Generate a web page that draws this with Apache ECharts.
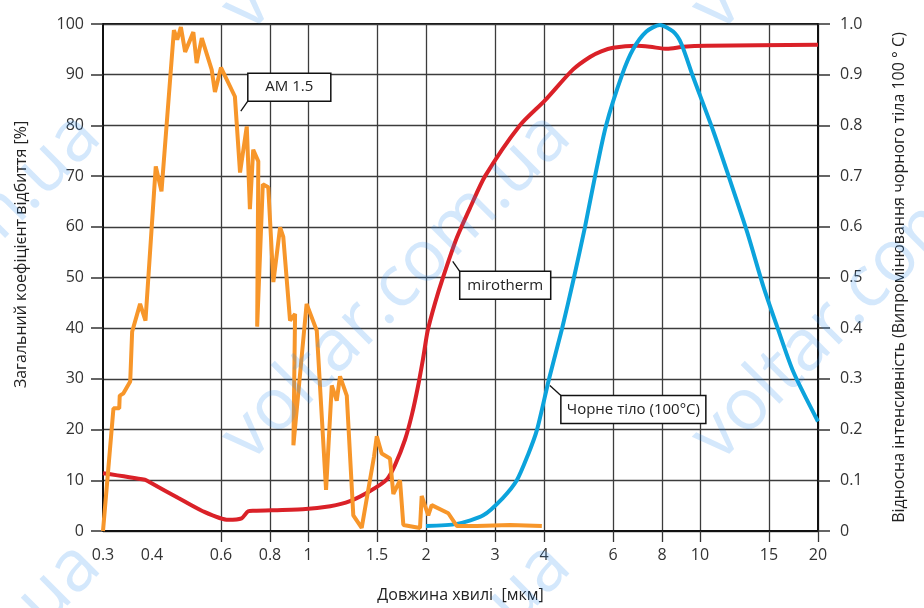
<!DOCTYPE html>
<html>
<head>
<meta charset="utf-8">
<title>mirotherm</title>
<script src="https://cdn.jsdelivr.net/npm/echarts@6.0.0/dist/echarts.min.js"></script>
<style>
  html, body { margin: 0; padding: 0; background: #fff; }
  #chart { width: 924px; height: 608px; }
</style>
</head>
<body>
<div id="chart"></div>
<script>
// [wavelength µm, %]
const am15 = [
  [0.3, 0], [0.319, 24.2], [0.33, 24.2], [0.331, 26.7], [0.338, 27.1], [0.352, 29.5],
  [0.356, 39.3], [0.373, 44.8], [0.385, 41.5], [0.409, 71.9], [0.423, 67.0], [0.455, 98.8],
  [0.464, 96.9], [0.474, 99.4], [0.486, 94.5], [0.51, 98.4], [0.52, 92.3], [0.536, 97.2],
  [0.568, 91.0], [0.579, 86.6], [0.6, 91.4], [0.651, 85.7], [0.671, 70.7], [0.698, 79.8],
  [0.711, 63.5], [0.725, 75.2], [0.747, 72.9], [0.742, 40.3], [0.767, 68.4], [0.792, 67.8],
  [0.816, 49.1], [0.849, 59.9], [0.865, 58.0], [0.9, 41.5], [0.927, 42.8], [0.918, 16.9],
  [0.992, 44.8], [1.053, 39.5], [1.112, 8.1], [1.15, 28.7], [1.184, 25.7], [1.207, 30.5],
  [1.256, 26.7], [1.305, 3.1], [1.371, 0.6], [1.474, 14.7], [1.498, 18.7], [1.542, 15.3],
  [1.619, 14.3], [1.651, 7.3], [1.717, 10.0], [1.751, 1.2], [1.931, 0.6], [1.95, 6.9],
  [2.027, 3.1], [2.068, 5.1], [2.28, 3.5], [2.396, 1.0], [2.694, 1.0], [3.276, 1.2], [3.95, 1.0]
];

const mirotherm = [
  [0.3, 11.4], [0.384, 10.1], [0.395, 9.6], [0.467, 6.5], [0.536, 4.0], [0.626, 2.2],
  [0.677, 2.5], [0.704, 3.9], [0.727, 4.0], [0.97, 4.3], [1.14, 4.9], [1.28, 5.9],
  [1.44, 7.9], [1.59, 10.2], [1.667, 13], [1.768, 18], [1.842, 23], [1.908, 28.5],
  [1.966, 34], [2.02, 39.5], [2.11, 45], [2.21, 50], [2.39, 57.6], [2.6, 64],
  [2.83, 70], [3.47, 80], [4.03, 85], [4.74, 91], [5.24, 93.5], [5.6, 94.6], [6.0, 95.3],
  [6.9, 95.7], [7.46, 95.5], [8.24, 95.1], [9.06, 95.5], [10.4, 95.7], [20, 95.9]
];

// black body 100°C, relative intensity (right axis)
const blackBody = [
  [2, 0.01], [2.4, 0.014], [2.8, 0.031], [3.14, 0.065], [3.41, 0.10], [3.64, 0.15],
  [3.84, 0.20], [4.12, 0.30], [4.45, 0.40], [4.77, 0.50], [5.09, 0.60], [5.40, 0.70],
  [5.76, 0.80], [6.33, 0.90], [6.75, 0.95], [7.3, 0.985], [7.9, 0.998], [8.54, 0.985],
  [8.95, 0.962], [9.6, 0.896], [10.8, 0.79], [11.9, 0.694], [13.2, 0.589], [14.5, 0.483],
  [15.7, 0.405], [17.3, 0.314], [20, 0.216]
];

const xTicks = [0.6, 0.8, 1, 1.5, 2, 3, 4, 6, 8, 10, 15, 20];
const xLabels = [0.3, 0.4, 0.6, 0.8, 1, 1.5, 2, 3, 4, 6, 8, 10, 15, 20];

const callouts = [
  { text: 'AM 1.5', at: [0.674, 82.8], axis: 0, dx: 7, dy: -38, w: 83 },
  { text: 'mirotherm', at: [2.34, 53.2], axis: 0, dx: 7, dy: 10, w: 91 },
  { text: 'Чорне тіло (100°C)', at: [4.14, 0.287], axis: 1, dx: 11, dy: 10, w: 145 }
];

const FONT = '"Open Sans", "Noto Sans", sans-serif';
const GRID_LINE = { color: '#3c3c3c', width: 1.3 };
const AXIS_LINE = { color: '#111', width: 2 };
const lg = p => [Math.log10(p[0]), p[1]];

const chart = echarts.init(document.getElementById('chart'));

chart.setOption({
  animation: false,
  grid: {
    left: 103, right: 106, top: 24, bottom: 75,
    show: true, borderColor: '#111', borderWidth: 2
  },
  xAxis: {
    type: 'value',
    min: Math.log10(0.3),
    max: Math.log10(20),
    name: 'Довжина хвилі  [мкм]',
    nameLocation: 'middle',
    nameGap: 56,
    nameTextStyle: { fontFamily: FONT, fontSize: 16, color: '#222' },
    axisLine: { onZero: false, lineStyle: AXIS_LINE },
    axisTick: {
      customValues: xTicks.map(Math.log10),
      length: 11,
      lineStyle: { color: '#333', width: 1.3 }
    },
    axisLabel: {
      customValues: xLabels.map(Math.log10),
      formatter: v => String(+Math.pow(10, v).toFixed(2)),
      margin: 16,
      fontFamily: FONT, fontSize: 16, color: '#333'
    },
    splitLine: { show: true, lineStyle: GRID_LINE }
  },
  yAxis: [
    {
      type: 'value',
      min: 0, max: 100, interval: 10,
      name: 'Загальний коефіцієнт відбиття [%]',
      nameLocation: 'middle',
      nameRotate: 90,
      nameGap: 74,
      nameTextStyle: { fontFamily: FONT, fontSize: 16, color: '#222', padding: [0, 0, 0, 46] },
      axisLine: { show: true, onZero: false, lineStyle: AXIS_LINE },
      axisTick: { show: true, length: 12, lineStyle: { color: '#333', width: 1.5 } },
      axisLabel: { margin: 19, fontFamily: FONT, fontSize: 16, color: '#333' },
      splitLine: { show: true, lineStyle: GRID_LINE }
    },
    {
      type: 'value',
      position: 'right',
      min: 0, max: 1, interval: 0.1,
      name: 'Відносна інтенсивність (Випромінювання чорного тіла 100 ° C)',
      nameLocation: 'middle',
      nameRotate: 90,
      nameGap: 73,
      nameTextStyle: { fontFamily: FONT, fontSize: 16, color: '#222' },
      axisLine: { show: true, onZero: false, lineStyle: AXIS_LINE },
      axisTick: { show: true, length: 12, lineStyle: { color: '#333', width: 1.5 } },
      axisLabel: {
        margin: 22, fontFamily: FONT, fontSize: 16, color: '#333',
        formatter: v => (v === 0 ? '0' : v.toFixed(1))
      },
      splitLine: { show: false }
    }
  ],
  series: [
    {
      name: 'mirotherm',
      type: 'line',
      yAxisIndex: 0,
      data: mirotherm.map(lg),
      smooth: 0.25,
      showSymbol: false,
      lineStyle: { color: '#da2128', width: 4 },
      z: 3
    },
    {
      name: 'Чорне тіло (100°C)',
      type: 'line',
      yAxisIndex: 1,
      data: blackBody.map(lg),
      smooth: 0.25,
      showSymbol: false,
      lineStyle: { color: '#0ca3dc', width: 4 },
      z: 3
    },
    {
      name: 'AM 1.5',
      type: 'line',
      yAxisIndex: 0,
      data: am15.map(lg),
      showSymbol: false,
      lineStyle: { color: '#f7962a', width: 4 },
      z: 4
    }
  ]
});

// callout boxes with leader lines, anchored on the curves
const graphics = [];
callouts.forEach(c => {
  const p = chart.convertToPixel({ xAxisIndex: 0, yAxisIndex: c.axis }, [Math.log10(c.at[0]), c.at[1]]);
  const bx = p[0] + c.dx;
  const by = p[1] + c.dy;
  const cornerY = c.dy < 0 ? by + 28 : by;
  graphics.push({
    type: 'line', z: 100,
    shape: { x1: p[0], y1: p[1], x2: bx, y2: cornerY },
    style: { stroke: '#111', lineWidth: 1.3 }
  });
  graphics.push({
    type: 'rect', z: 100,
    shape: { x: bx, y: by, width: c.w, height: 28 },
    style: { fill: '#fff', stroke: '#111', lineWidth: 1.5 }
  });
  graphics.push({
    type: 'text', z: 101,
    x: bx + c.w / 2, y: by + 14,
    style: { text: c.text, fill: '#222', font: '15px ' + FONT, align: 'center', verticalAlign: 'middle' }
  });
});

// site watermark, tiled diagonally
[-210, 260, 730].forEach(x => {
  [45, 475, 905].forEach(y => {
    graphics.push({
      type: 'text', z: 200, silent: true,
      x: x, y: y, rotation: Math.PI / 4,
      style: {
        text: 'voltar.com.ua', fill: 'rgba(40,140,240,0.2)',
        font: '72px ' + FONT, align: 'left', verticalAlign: 'bottom'
      }
    });
  });
});

chart.setOption({ graphic: graphics });
</script>
</body>
</html>
